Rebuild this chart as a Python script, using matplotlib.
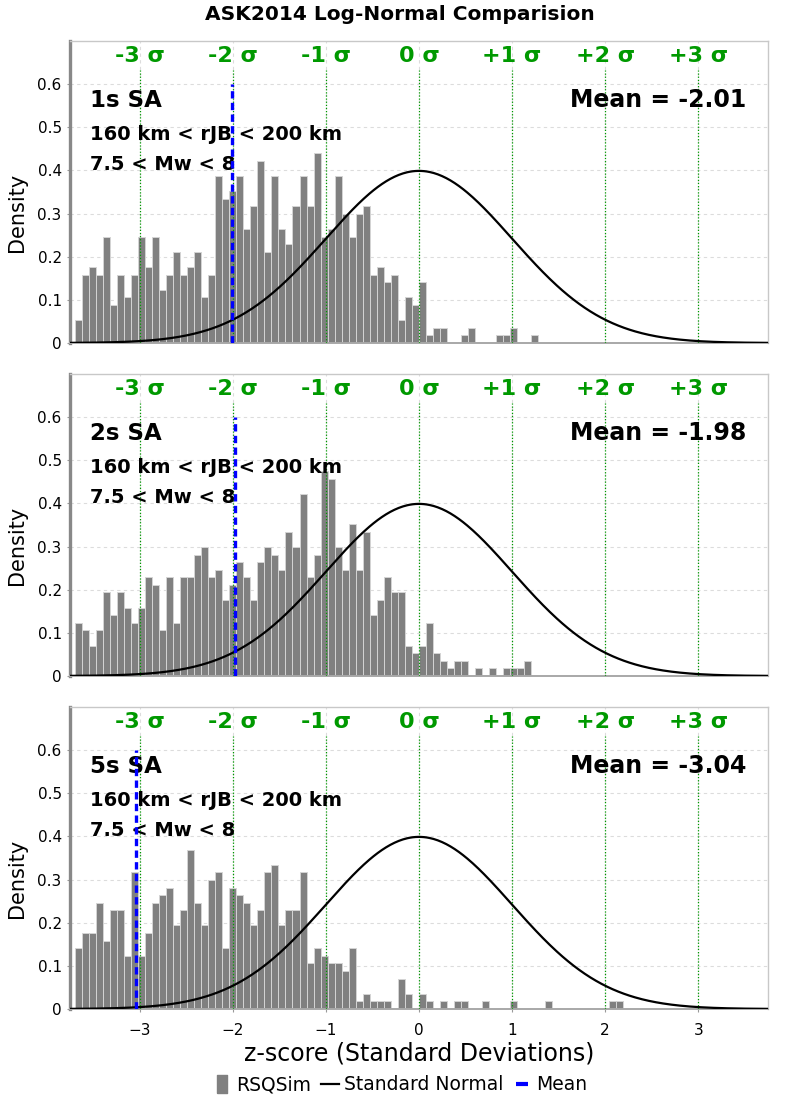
import numpy as np
import matplotlib
matplotlib.use("Agg")
import matplotlib.pyplot as plt
from matplotlib.lines import Line2D

plt.rcParams["font.family"] = ["DejaVu Sans"]

# histogram bins (left edge of first bin, bin width), counts per bin
BIN_START = -3.70
BIN_WIDTH = 0.0755
DENSITY_PER_COUNT = 0.0176

counts_1s = [3, 9, 10, 9, 14, 5, 9, 6, 9, 14,
             10, 14, 7, 9, 12, 9, 10, 12, 6, 9,
             22, 19, 20, 22, 15, 18, 24, 12, 22, 15,
             13, 18, 22, 18, 25, 14, 15, 22, 17, 14,
             17, 18, 9, 10, 8, 9, 3, 6, 5, 8,
             1, 2, 2, 0, 0, 1, 2, 0, 0, 0,
             1, 1, 2, 0, 0, 1]
counts_2s = [7, 6, 4, 6, 11, 8, 11, 9, 7, 9,
             13, 12, 6, 13, 7, 13, 13, 16, 17, 13,
             14, 10, 12, 15, 13, 10, 15, 17, 16, 14,
             19, 17, 24, 13, 16, 27, 26, 17, 14, 20,
             14, 19, 8, 10, 13, 11, 11, 4, 3, 4,
             7, 3, 2, 1, 2, 2, 0, 1, 0, 1,
             0, 1, 1, 1, 2]
counts_5s = [8, 10, 10, 14, 9, 13, 13, 7, 18, 7,
             10, 14, 15, 16, 11, 13, 21, 14, 11, 17,
             18, 8, 16, 15, 14, 11, 13, 18, 19, 11,
             13, 13, 18, 6, 8, 7, 6, 6, 5, 8,
             1, 2, 1, 1, 1, 0, 4, 2, 0, 2,
             1, 0, 1, 0, 1, 1, 0, 0, 1, 0,
             0, 0, 1, 0, 0, 0, 0, 1, 0, 0,
             0, 0, 0, 0, 0, 0, 1, 1]

periods = ["1s SA", "2s SA", "5s SA"]
means = [-2.01, -1.98, -3.04]
all_counts = [counts_1s, counts_2s, counts_5s]

sigmas = [-3, -2, -1, 0, 1, 2, 3]
sigma_labels = ["-3 σ", "-2 σ", "-1 σ", "0 σ", "+1 σ", "+2 σ", "+3 σ"]
yticks = [0, 0.1, 0.2, 0.3, 0.4, 0.5, 0.6]
ytick_labels = ["0", "0.1", "0.2", "0.3", "0.4", "0.5", "0.6"]

dist_text = "160 km < rJB < 200 km"
mag_text = "7.5 < Mw < 8"

GREY = "#808080"
GREEN = "#009900"

fig = plt.figure(figsize=(8, 11), dpi=100)
fig.text(0.5, 1 - 15 / 1100, "ASK2014 Log-Normal Comparision", ha="center", va="center",
         fontsize=14.5, fontweight="bold")

# panel positions in figure fractions
left, width, height = 70 / 800, 698 / 800, 302 / 1100
bottoms = [1 - 343 / 1100, 1 - 676 / 1100, 1 - 1009 / 1100]

xs = np.linspace(-3.75, 3.75, 500)
pdf = np.exp(-xs ** 2 / 2) / np.sqrt(2 * np.pi)

for i in range(3):
    ax = fig.add_axes([left, bottoms[i], width, height])
    counts = np.array(all_counts[i], dtype=float)
    edges = BIN_START + np.arange(len(counts)) * BIN_WIDTH
    keep = counts > 0
    ax.bar(edges[keep], counts[keep] * DENSITY_PER_COUNT, width=BIN_WIDTH, align="edge",
           color=GREY, edgecolor="#d4d4d4", linewidth=0.7, zorder=2)

    ax.plot(xs, pdf, color="black", lw=1.6, zorder=4)
    ax.vlines(sigmas, 0, 0.633, colors=GREEN, linestyles=(0, (1, 1.5)), lw=0.9, zorder=3)
    for s, lab in zip(sigmas, sigma_labels):
        ax.text(s, 0.665, lab, ha="center", va="center", color=GREEN,
                fontsize=16, fontweight="bold")
    ax.vlines(means[i], 0, 0.6, colors="#0000ff", linestyles=(0, (2.2, 1.3)), lw=2.4, zorder=5)

    ax.text(-3.53, 0.562, periods[i], ha="left", va="center", fontsize=16.5, fontweight="bold")
    ax.text(-3.53, 0.484, dist_text, ha="left", va="center", fontsize=14, fontweight="bold")
    ax.text(-3.53, 0.414, mag_text, ha="left", va="center", fontsize=14, fontweight="bold")
    ax.text(3.52, 0.564, "Mean = %.2f" % means[i], ha="right", va="center",
            fontsize=17, fontweight="bold")

    ax.set_xlim(-3.75, 3.75)
    ax.set_ylim(0, 0.7)
    ax.set_xticks(sigmas)
    ax.set_yticks(yticks)
    ax.set_yticklabels(ytick_labels)
    ax.grid(True, color="#dcdcdc", linestyle=(0, (3, 3)), lw=0.8, zorder=0)
    ax.set_axisbelow(True)
    ax.tick_params(axis="both", length=2, color="#999999", labelsize=11, pad=4)
    ax.set_ylabel("Density", fontsize=15)
    ax.yaxis.set_label_coords(-0.062, 0.434)

    for side in ["top", "right"]:
        ax.spines[side].set_color("#c8c8c8")
        ax.spines[side].set_linewidth(1)
    ax.spines["left"].set_color("#888888")
    ax.spines["left"].set_linewidth(2.4)
    ax.spines["bottom"].set_color("#a8a8a8")
    ax.spines["bottom"].set_linewidth(1.4)

    if i < 2:
        ax.tick_params(axis="x", labelbottom=False, length=0)
    else:
        ax.tick_params(axis="x", pad=8)
        ax.set_xlabel("z-score (Standard Deviations)", fontsize=17)
        ax.xaxis.set_label_coords(0.5, -0.108)

rect = [(-0.5, -1), (0.5, -1), (0.5, 1), (-0.5, 1), (-0.5, -1)]
handles = [
    Line2D([], [], linestyle="none", marker=rect, markersize=13, color=GREY),
    Line2D([], [], color="black", lw=1.6),
    Line2D([], [], linestyle="none", marker="_", markersize=8, markeredgewidth=3, color="#0000ff"),
]
fig.legend(handles, ["RSQSim", "Standard Normal", "Mean"], loc="center",
           bbox_to_anchor=(0.5, 1 - 1085 / 1100), ncol=3, frameon=False, fontsize=13.5,
           handlelength=1.0, handletextpad=0.25, columnspacing=0.5)

fig.savefig("out.png", dpi=100)
